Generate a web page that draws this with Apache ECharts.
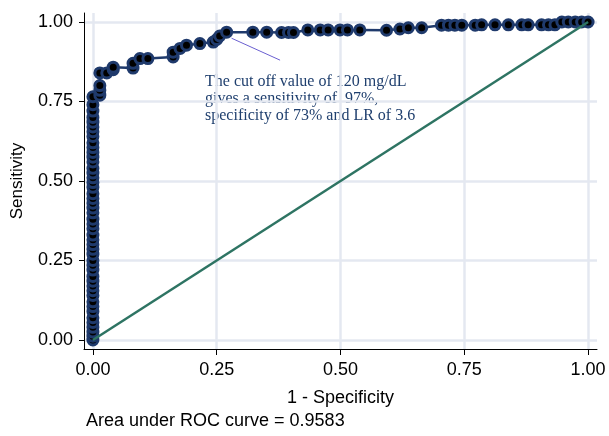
<!DOCTYPE html>
<html>
<head>
<meta charset="utf-8">
<script src="https://cdn.jsdelivr.net/npm/echarts@6/dist/echarts.min.js"></script>
<style>
  html, body { margin: 0; padding: 0; background: #fff; }
  #chart { width: 609px; height: 436px; }
</style>
</head>
<body>
<div id="chart"></div>
<script>
// ROC curve points (1 - specificity, sensitivity)
var fpr = [
  0, 0, 0, 0, 0, 0, 0, 0, 0, 0,
  0, 0, 0, 0, 0, 0, 0, 0, 0, 0,
  0, 0, 0, 0, 0, 0, 0, 0, 0, 0,
  0, 0, 0, 0, 0, 0, 0, 0, 0, 0,
  0, 0, 0, 0, 0, 0, 0, 0,
  0.014, 0.014, 0.014, 0.014, 0.028, 0.041, 0.041, 0.081, 0.081, 0.095,
  0.111, 0.162, 0.162, 0.176, 0.189, 0.216, 0.243, 0.25, 0.256, 0.27,
  0.323, 0.351, 0.381, 0.395, 0.405, 0.434, 0.459, 0.475, 0.499, 0.514,
  0.539, 0.593, 0.62, 0.637, 0.664, 0.704, 0.718, 0.731, 0.745, 0.772,
  0.785, 0.812, 0.839, 0.866, 0.879, 0.906, 0.92, 0.933, 0.947, 0.96,
  0.974, 0.987, 1
];
var tpr = [
  0, 0.012, 0.025, 0.04, 0.055, 0.07, 0.09, 0.105, 0.12, 0.14,
  0.155, 0.17, 0.185, 0.2, 0.22, 0.235, 0.25, 0.27, 0.285, 0.3,
  0.315, 0.33, 0.35, 0.365, 0.38, 0.4, 0.415, 0.43, 0.445, 0.46,
  0.48, 0.495, 0.51, 0.525, 0.54, 0.56, 0.575, 0.59, 0.605, 0.62,
  0.64, 0.655, 0.67, 0.685, 0.7, 0.72, 0.74, 0.765,
  0.77, 0.785, 0.8, 0.84, 0.84, 0.85, 0.858, 0.855, 0.87, 0.885,
  0.885, 0.89, 0.905, 0.917, 0.927, 0.932, 0.937, 0.945, 0.956, 0.968,
  0.968, 0.968, 0.967, 0.967, 0.967, 0.975, 0.975, 0.975, 0.975, 0.975,
  0.975, 0.974, 0.978, 0.982, 0.982, 0.99, 0.99, 0.99, 0.99, 0.99,
  0.991, 0.991, 0.991, 0.991, 0.991, 0.991, 0.991, 0.991, 1, 1,
  1, 1, 1
];
var refLine = [[0, 0], [1, 1]];
var tickValues = [0, 0.25, 0.5, 0.75, 1];
var cutoffPoint = [0.28, 0.949];
var arrowTail = [0.378, 0.88];

var rocData = fpr.map(function (x, i) { return [x, tpr[i]]; });

var chart = echarts.init(document.getElementById('chart'));

var axisFont = { fontFamily: 'Liberation Sans', fontSize: 18, color: '#000' };
var gridLine = { show: true, lineStyle: { color: '#e4e8f1', width: 2.5 } };

chart.setOption({
  animation: false,
  grid: { left: 84, right: 12, top: 13, bottom: 87, containLabel: false, outerBoundsMode: 'none' },
  xAxis: {
    type: 'value',
    min: -0.018,
    max: 1.018,
    name: '1 - Specificity',
    nameLocation: 'middle',
    nameGap: 40,
    nameTextStyle: axisFont,
    axisLine: { show: true, onZero: false, lineStyle: { color: '#000', width: 1 } },
    axisTick: { show: true, length: 6, lineStyle: { color: '#000' }, customValues: tickValues },
    axisLabel: Object.assign({ margin: 12, customValues: tickValues, formatter: function (v) { return v.toFixed(2); } }, axisFont),
    splitLine: gridLine
  },
  yAxis: {
    type: 'value',
    min: -0.0283,
    max: 1.0283,
    name: 'Sensitivity',
    nameLocation: 'middle',
    nameGap: 58,
    nameTextStyle: Object.assign({}, axisFont, { fontSize: 17 }),
    axisLine: { show: true, onZero: false, lineStyle: { color: '#000', width: 1 } },
    axisTick: { show: true, length: 5, lineStyle: { color: '#000' }, customValues: tickValues },
    axisLabel: Object.assign({ margin: 11, customValues: tickValues, formatter: function (v) { return v.toFixed(2); } }, axisFont),
    splitLine: gridLine
  },
  series: [{
    name: 'ROC',
    type: 'line',
    data: rocData,
    symbol: 'circle',
    symbolSize: 10,
    lineStyle: { color: '#1f3a6c', width: 2.5 },
    itemStyle: { color: '#000', borderColor: '#1f3a6c', borderWidth: 3 },
    z: 2,
    markLine: {
      silent: true,
      symbol: ['none', 'arrow'],
      symbolSize: [0, 7],
      label: { show: false },
      lineStyle: { color: '#6a5fd0', width: 1, type: 'solid' },
      data: [[{ coord: arrowTail }, { coord: cutoffPoint }]]
    }
  }, {
    name: 'Reference',
    type: 'line',
    data: refLine,
    symbol: 'none',
    lineStyle: { color: '#2e7463', width: 2.5 },
    z: 3
  }],
  graphic: [{
    type: 'text',
    left: 205,
    top: 73,
    style: {
      text: 'The cut off value of 120 mg/dL\ngives a sensitivity of  97%,\nspecificity of 73% and LR of 3.6',
      font: '16px "Liberation Serif"',
      fill: '#1f3f6e',
      lineHeight: 17
    }
  }, {
    type: 'text',
    left: 86,
    top: 412,
    style: {
      text: 'Area under ROC curve = 0.9583',
      font: '18px "Liberation Sans"',
      fill: '#000'
    }
  }]
});
</script>
</body>
</html>
